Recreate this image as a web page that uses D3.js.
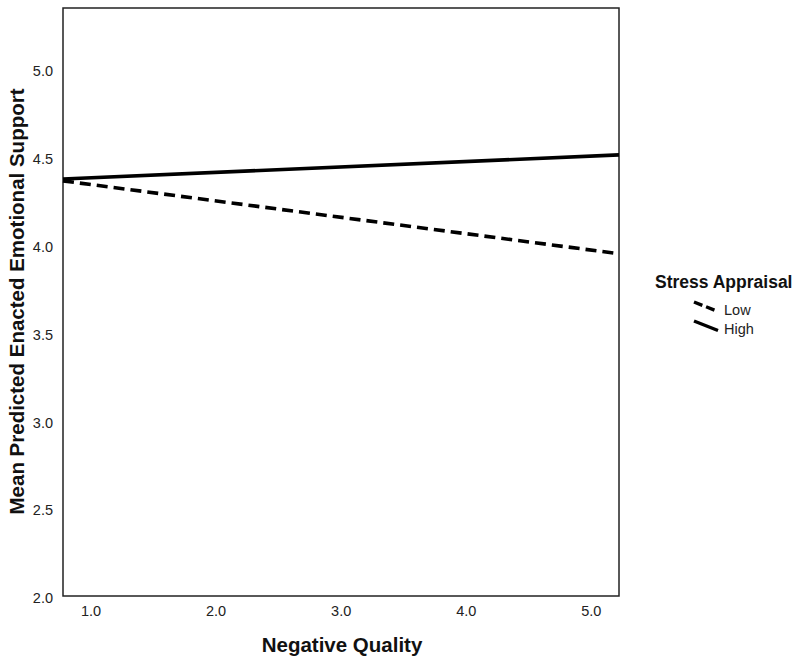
<!DOCTYPE html>
<html><head><meta charset="utf-8">
<script src="https://cdn.jsdelivr.net/npm/d3@7"></script>
<style>body{margin:0;background:#fff;} svg{display:block;}</style>
</head><body>
<svg id="c" width="800" height="666"></svg>
<script>
const seriesNames = ["Low", "High"];
const xEnds = [0.78, 5.225];
const lowValues = [4.365, 3.950];
const highValues = [4.376, 4.513];
const xTicks = [1.0, 2.0, 3.0, 4.0, 5.0];
const yTicks = [2.0, 2.5, 3.0, 3.5, 4.0, 4.5, 5.0];
const xTitle = "Negative Quality";
const yTitle = "Mean Predicted Enacted Emotional Support";
const legendTitle = "Stress Appraisal";

const svg = d3.select("#c");
const L = 63, R = 619, T = 8, B = 596;
const x = d3.scaleLinear().domain(xEnds).range([L, R]);
const y = d3.scaleLinear().domain([2.0, 5.35]).range([B, T]);
const font = "Liberation Sans, Arial, sans-serif";

svg.append("rect").attr("x", L).attr("y", T).attr("width", R - L).attr("height", B - T)
  .attr("fill", "none").attr("stroke", "#222").attr("stroke-width", 1.5);

const xAxis = svg.append("g").attr("transform", `translate(0,${B})`)
  .call(d3.axisBottom(x).tickValues(xTicks).tickFormat(d3.format(".1f")).tickSize(0).tickPadding(10));
xAxis.select(".domain").remove();
xAxis.selectAll("text").attr("font-family", font).attr("font-size", 14.5).attr("fill", "#222");

const yAxis = svg.append("g").attr("transform", `translate(${L},0)`)
  .call(d3.axisLeft(y).tickValues(yTicks).tickFormat(d3.format(".1f")).tickSize(0).tickPadding(10));
yAxis.select(".domain").remove();
yAxis.selectAll("text").attr("font-family", font).attr("font-size", 14.5).attr("fill", "#222").attr("dy", "0.45em");

svg.append("text").attr("x", 342).attr("y", 652).attr("text-anchor", "middle")
  .attr("font-family", font).attr("font-weight", "bold").attr("font-size", 20.5).attr("fill", "#111").text(xTitle);
svg.append("text").attr("transform", `translate(24,301.5) rotate(-90)`).attr("text-anchor", "middle")
  .attr("font-family", font).attr("font-weight", "bold").attr("font-size", 20.5).attr("fill", "#111").text(yTitle);

const line = d3.line().x(d => x(d[0])).y(d => y(d[1]));
const series = [
  { name: seriesNames[0], vals: lowValues, dash: "11,6" },
  { name: seriesNames[1], vals: highValues, dash: null }
];
series.forEach(s => {
  svg.append("path").datum(xEnds.map((xv, i) => [xv, s.vals[i]]))
    .attr("d", line).attr("fill", "none").attr("stroke", "#000").attr("stroke-width", 3.6)
    .attr("stroke-dasharray", s.dash);
});

// legend
svg.append("text").attr("x", 655).attr("y", 288).attr("font-family", font).attr("font-weight", "bold")
  .attr("font-size", 17.5).attr("fill", "#111").text(legendTitle);
series.forEach((s, i) => {
  const y0 = 302 + i * 19;
  svg.append("line").attr("x1", 694).attr("y1", y0).attr("x2", 718).attr("y2", y0 + 9.5)
    .attr("stroke", "#000").attr("stroke-width", 3.4).attr("stroke-dasharray", s.dash ? "9,4" : null);
  svg.append("text").attr("x", 724).attr("y", y0 + 13).attr("font-family", font)
    .attr("font-size", 14.5).attr("fill", "#222").text(s.name);
});
</script>
</body></html>
